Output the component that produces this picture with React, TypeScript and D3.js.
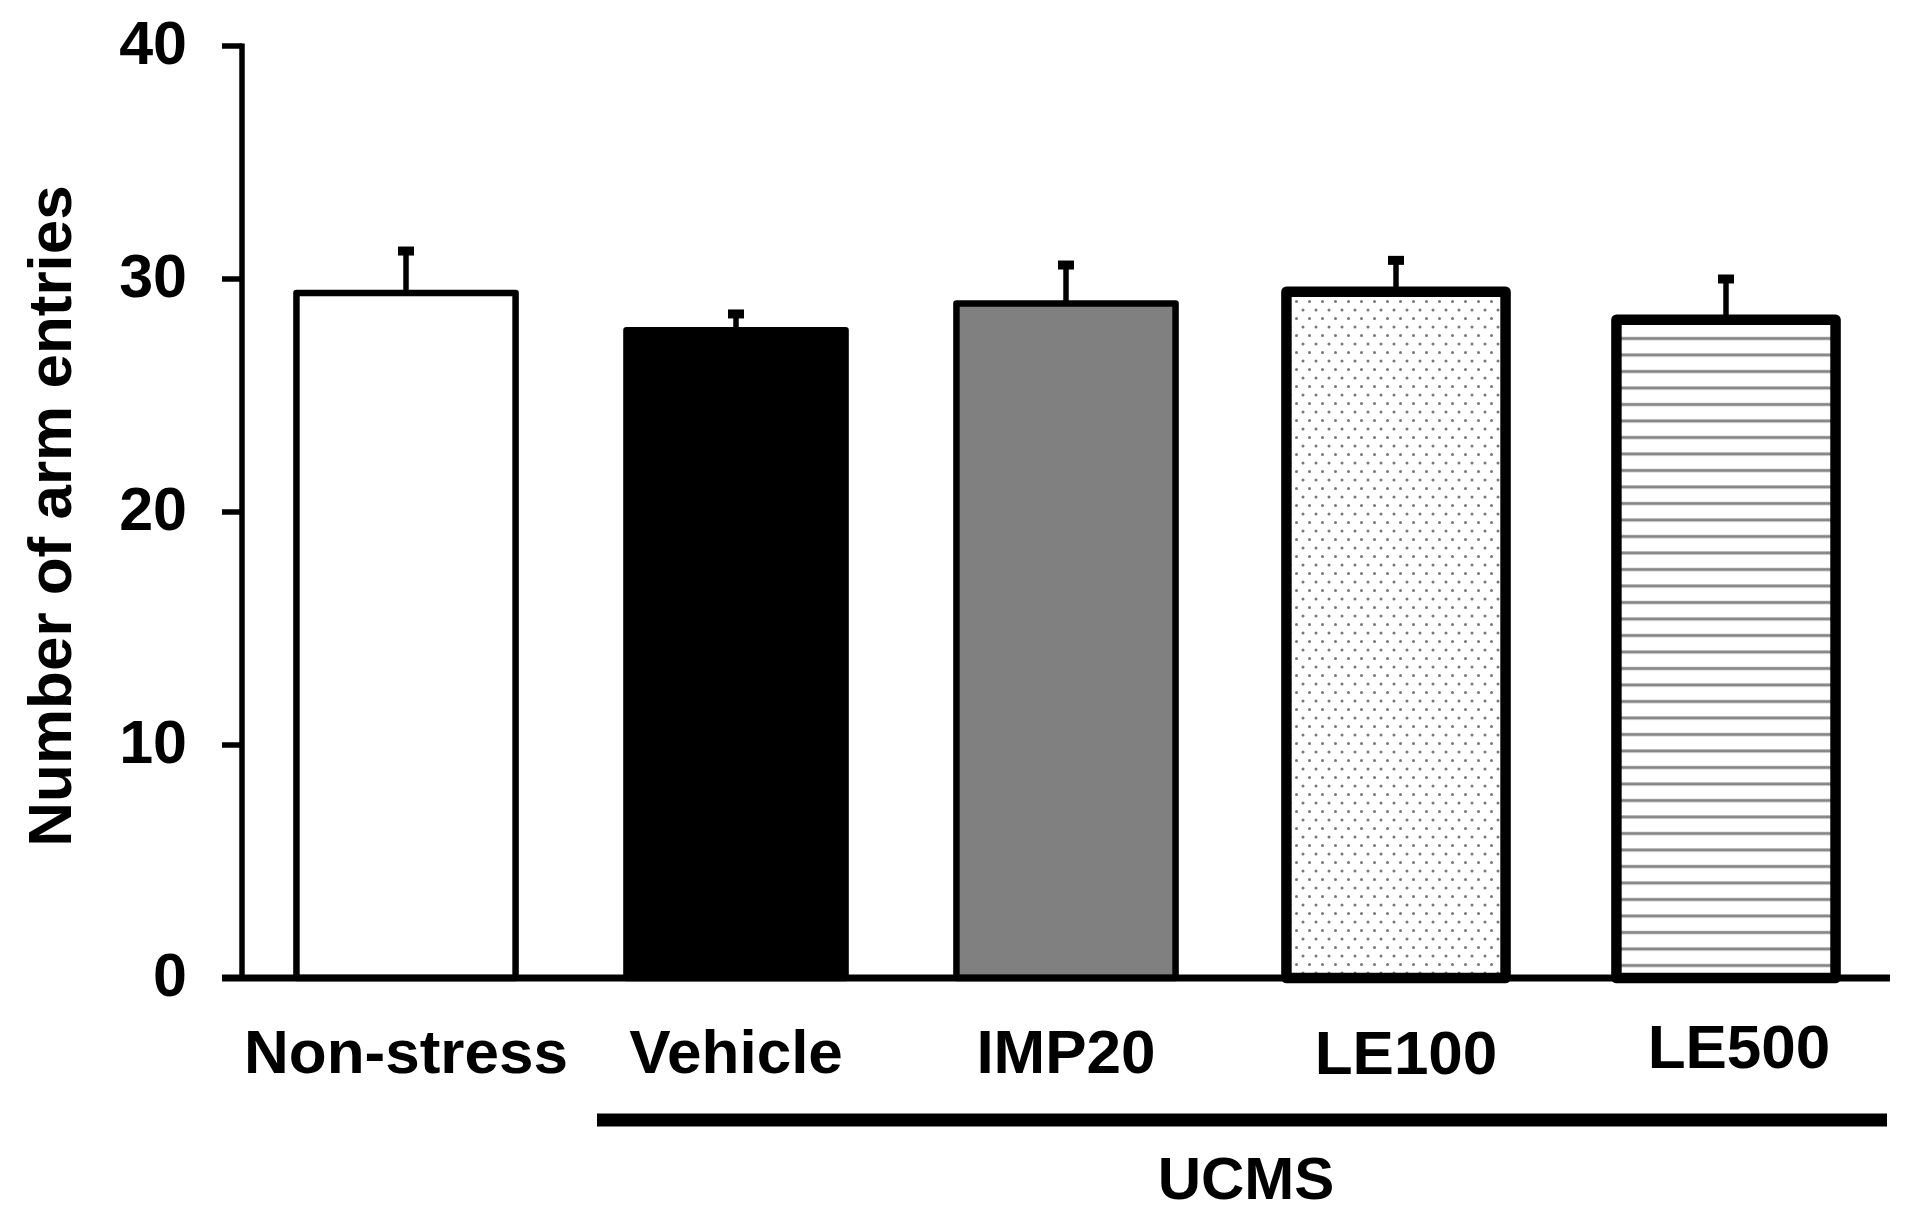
import * as d3 from "d3";
import { useEffect, useRef } from "react";

const groups = ["Non-stress", "Vehicle", "IMP20", "LE100", "LE500"];
const means = [29.4, 27.8, 28.95, 29.45, 28.25];
const sems = [1.8, 0.7, 1.65, 1.35, 1.75];
const yTicks = [0, 10, 20, 30, 40];
const groupLabel = "UCMS";
const yTitle = "Number of arm entries";

export default function App() {
  const ref = useRef<SVGSVGElement | null>(null);

  useEffect(() => {
    const svg = d3.select(ref.current as SVGSVGElement);
    svg.selectAll("*").remove();

    const width = 1912;
    const height = 1224;
    const font = "'Liberation Sans', Arial, sans-serif";
    svg.attr("viewBox", `0 0 ${width} ${height}`);

    const axisX = 242;
    const y = d3.scaleLinear().domain([0, 40]).range([978, 46]);
    const x = d3
      .scaleBand<string>()
      .domain(groups)
      .range([axisX, 1890])
      .paddingInner(0.336)
      .paddingOuter(0.165);

    // fill patterns
    const defs = svg.append("defs");
    const dots = defs
      .append("pattern")
      .attr("id", "dots")
      .attr("patternUnits", "userSpaceOnUse")
      .attr("width", 13)
      .attr("height", 17);
    dots.append("rect").attr("width", 13).attr("height", 17).attr("fill", "#fff");
    dots.append("circle").attr("cx", 3).attr("cy", 4).attr("r", 1.5).attr("fill", "#777");
    dots.append("circle").attr("cx", 9.5).attr("cy", 12.5).attr("r", 1.5).attr("fill", "#777");

    const lines = defs
      .append("pattern")
      .attr("id", "hlines")
      .attr("patternUnits", "userSpaceOnUse")
      .attr("width", 20)
      .attr("height", 16.5);
    lines.append("rect").attr("width", 20).attr("height", 16.5).attr("fill", "#fff");
    lines
      .append("rect")
      .attr("y", 7)
      .attr("width", 20)
      .attr("height", 3)
      .attr("fill", "#858585");

    const fills = ["#ffffff", "#000000", "#808080", "url(#dots)", "url(#hlines)"];
    const strokes = [6.5, 6.5, 6.5, 10.5, 10.5];
    const labelNudge = [[0, 0], [0, 0], [0, 0], [10, 1], [13, -5]];

    // error bars first so the bar outline covers the stem
    const eb = svg.append("g");
    groups.forEach((g, i) => {
      const cx = (x(g) as number) + x.bandwidth() / 2;
      const top = y(means[i] + sems[i]);
      eb.append("line")
        .attr("x1", cx)
        .attr("x2", cx)
        .attr("y1", y(means[i]))
        .attr("y2", top)
        .attr("stroke", "#000")
        .attr("stroke-width", 5.5);
      eb.append("rect")
        .attr("x", cx - 8)
        .attr("y", top - 4.5)
        .attr("width", 16)
        .attr("height", 9)
        .attr("fill", "#000");
    });

    // bars
    svg
      .append("g")
      .selectAll("rect")
      .data(groups)
      .enter()
      .append("rect")
      .attr("x", (d) => x(d) as number)
      .attr("y", (_d, i) => y(means[i]))
      .attr("width", x.bandwidth())
      .attr("height", (_d, i) => y(0) - y(means[i]))
      .attr("fill", (_d, i) => fills[i])
      .attr("stroke", "#000")
      .attr("stroke-width", (_d, i) => strokes[i])
      .attr("stroke-linejoin", "round");

    // y axis
    const ya = svg.append("g");
    ya.append("line")
      .attr("x1", axisX)
      .attr("x2", axisX)
      .attr("y1", y(40) - 2.5)
      .attr("y2", y(0))
      .attr("stroke", "#000")
      .attr("stroke-width", 5.5);
    ya.selectAll(".tk")
      .data(yTicks)
      .enter()
      .append("line")
      .attr("x1", axisX - 20)
      .attr("x2", axisX)
      .attr("y1", (d) => y(d))
      .attr("y2", (d) => y(d))
      .attr("stroke", "#000")
      .attr("stroke-width", 5.5);
    ya.selectAll("text")
      .data(yTicks)
      .enter()
      .append("text")
      .attr("x", 187)
      .attr("y", (d) => y(d))
      .attr("dy", "0.3em")
      .attr("text-anchor", "end")
      .attr("font-family", font)
      .attr("font-weight", "bold")
      .attr("font-size", 61)
      .text((d) => String(d));

    // baseline
    svg
      .append("line")
      .attr("x1", axisX - 20)
      .attr("x2", 1890)
      .attr("y1", y(0))
      .attr("y2", y(0))
      .attr("stroke", "#000")
      .attr("stroke-width", 7);

    // category labels
    svg
      .append("g")
      .selectAll("text")
      .data(groups)
      .enter()
      .append("text")
      .attr("x", (d, i) => (x(d) as number) + x.bandwidth() / 2 + labelNudge[i][0])
      .attr("y", (_d, i) => 1073 + labelNudge[i][1])
      .attr("text-anchor", "middle")
      .attr("font-family", font)
      .attr("font-weight", "bold")
      .attr("font-size", 62)
      .text((d) => d);

    // UCMS bracket
    svg
      .append("line")
      .attr("x1", 597)
      .attr("x2", 1887)
      .attr("y1", 1120)
      .attr("y2", 1120)
      .attr("stroke", "#000")
      .attr("stroke-width", 13);
    svg
      .append("text")
      .attr("x", 1246)
      .attr("y", 1199)
      .attr("text-anchor", "middle")
      .attr("font-family", font)
      .attr("font-weight", "bold")
      .attr("font-size", 60)
      .text(groupLabel);

    // y title
    svg
      .append("text")
      .attr("transform", `translate(71,516) rotate(-90)`)
      .attr("text-anchor", "middle")
      .attr("font-family", font)
      .attr("font-weight", "bold")
      .attr("font-size", 62)
      .text(yTitle);
  }, []);

  return (
    <div style={{ position: "absolute", left: 0, top: 0, background: "#fff" }}>
      <svg ref={ref} width={1912} height={1224} style={{ display: "block" }} />
    </div>
  );
}
